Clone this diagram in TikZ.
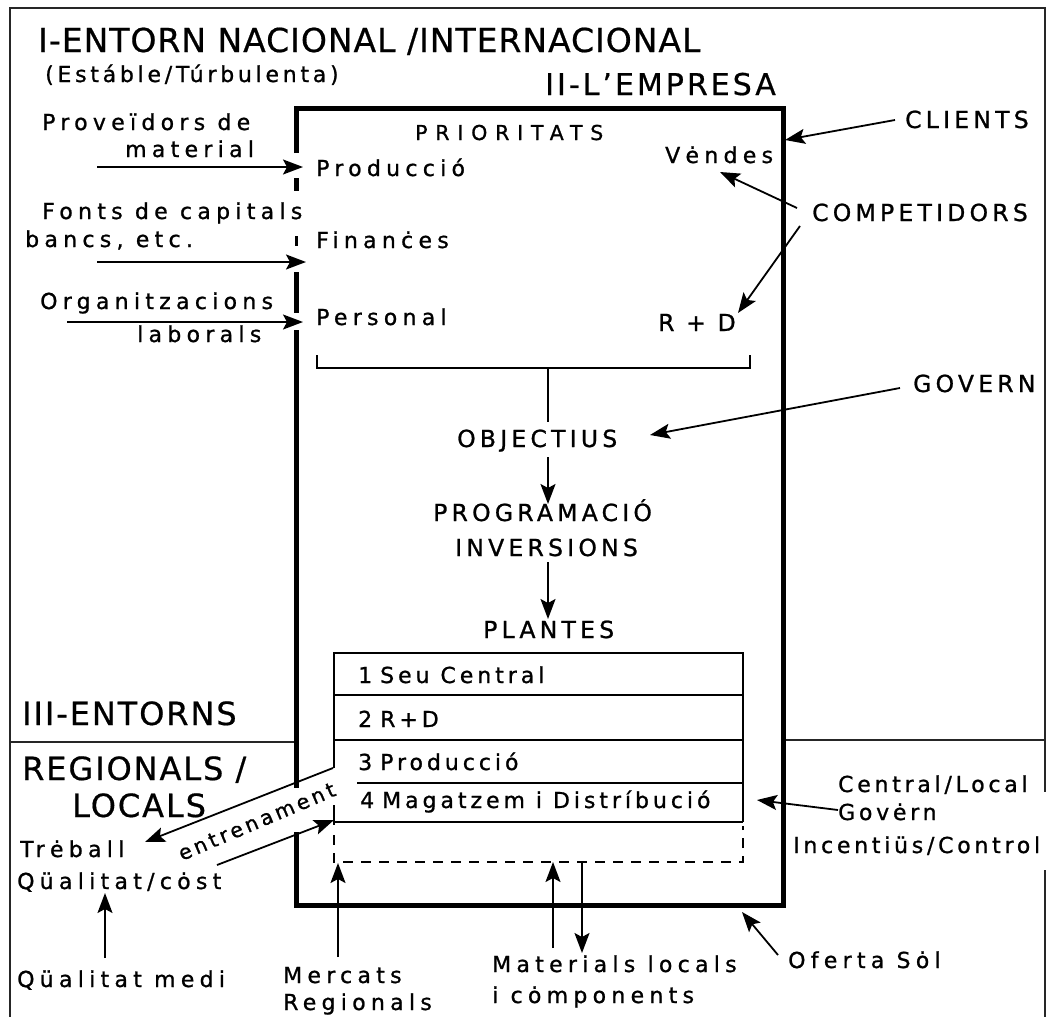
\documentclass[tikz,border=0pt]{standalone}
\usepackage{fontspec}
\setmainfont{DejaVu Sans}
\newfontfamily\ftitle[LetterSpace=3,FakeBold=0.6]{DejaVu Sans}
\newfontfamily\fbig[LetterSpace=6,FakeBold=0.6]{DejaVu Sans}
\newfontfamily\femp[LetterSpace=10,FakeBold=0.6]{DejaVu Sans}
\newfontfamily\fcap[LetterSpace=18,FakeBold=1]{DejaVu Sans}
\newfontfamily\fprio[LetterSpace=38,FakeBold=1]{DejaVu Sans}
\newfontfamily\flow[LetterSpace=24,FakeBold=1]{DejaVu Sans}
\newfontfamily\frow[LetterSpace=18,FakeBold=1]{DejaVu Sans}
\newfontfamily\flowt[LetterSpace=17,FakeBold=1]{DejaVu Sans}
\usetikzlibrary{arrows.meta}
\tikzset{
  lbl/.style={anchor=base west, inner sep=0pt, text=black},
  ttitle/.style={lbl, font=\ftitle\fontsize{33}{36}\selectfont},
  tbig/.style={lbl, font=\fbig\fontsize{32}{36}\selectfont},
  temp/.style={lbl, font=\femp\fontsize{30}{34}\selectfont},
  tcap/.style={lbl, font=\fcap\fontsize{23.5}{27}\selectfont},
  tprio/.style={lbl, font=\fprio\fontsize{20.5}{24}\selectfont},
  tlow/.style={lbl, font=\flow\fontsize{22}{26}\selectfont},
  trow/.style={lbl, font=\frow\fontsize{22}{26}\selectfont},
  tlowt/.style={lbl, font=\flowt\fontsize{22}{26}\selectfont},
  tent/.style={lbl, font=\flowt\fontsize{20.5}{24}\selectfont},
  ln/.style={line width=1.8pt, black},
  arr/.style={ln, -{Stealth[length=20pt,width=15pt,inset=4pt]}},
  bx/.style={line width=5pt, black},
  fr/.style={line width=1.6pt, black!85},
  tb/.style={line width=1.5pt, black},
  dsh/.style={tb, dash pattern=on 10pt off 8pt}
}
\begin{document}
\begin{tikzpicture}[x=1pt,y=-1pt]
\fill[white] (0,0) rectangle (1053,1017);
\useasboundingbox (0,0) rectangle (1053,1017);

% outer frame and divider
\draw[fr] (10,1017) -- (10,8) -- (1045,8) -- (1045,792);
\draw[fr] (1045,870) -- (1045,1017);
\draw[fr] (10,742) -- (296,742);
\draw[fr] (783,740) -- (1045,740);

% the company box (thick, broken on the left)
\draw[bx] (296,153) -- (296,108) -- (783,108) -- (783,905) -- (296,905) -- (296,832);
\draw[bx] (296,178) -- (296,191);
\draw[line width=3pt] (296,236) -- (296,246);
\draw[bx] (296,272) -- (296,313);
\draw[bx] (296,330) -- (296,788);

% texts
\node[ttitle] (t1) at (38,52) {I-ENTORN NACIONAL /INTERNACIONAL};
\node[tlowt] (t2) at (45,82) {(Estáble/Túrbulenta)};
\node[temp] (t3) at (545,95) {II-L’EMPRESA};
\node[tprio] (prio) at (415,140) {PRIORITATS};
\node[tlow] (prov1) at (42,130) {Proveïdors de};
\node[tlow] (prov2) at (125,157) {material};
\node[tlow] (prod) at (316,176) {Producció};
\node[tlow] (fonts1) at (42,219) {Fonts de capitals};
\node[tlow] (fonts2) at (25,247) {bancs, etc.};
\node[tlow] (fin) at (316,248) {Finanċes};
\node[tlow] (org1) at (40,309) {Organitzacions};
\node[tlow] (org2) at (137,342) {laborals};
\node[tlow] (pers) at (316,325) {Personal};
\node[tlow] (vend) at (665,163) {Vėndes};
\node[tcap] (cli) at (905,128) {CLIENTS};
\node[tcap] (comp) at (812,221) {COMPETIDORS};
\node[tcap] (rd) at (658,331) {R + D};
\node[tcap] (gov) at (913,392) {GOVERN};
\node[tcap] (obj) at (457,447) {OBJECTIUS};
\node[tcap] (prog) at (433,521) {PROGRAMACIÓ};
\node[tcap] (inv) at (455,556) {INVERSIONS};
\node[tcap] (plan) at (483,638) {PLANTES};

\node[trow] (r1) at (358,683) {1\hspace{8pt}Seu Central};
\node[trow] (r2) at (358,727) {2\hspace{8pt}R+D};
\node[trow] (r3) at (358,770) {3\hspace{8pt}Producció};
\node[trow] (r4) at (360,808) {4\hspace{8pt}Magatzem i Distríbució};

\node[tbig] (e3) at (22,725) {III-ENTORNS};
\node[tbig] (reg1) at (22,780) {REGIONALS /};
\node[tbig] (reg2) at (72,817) {LOCALS};
\node[tlow] (treb) at (20,857) {Trėball};
\node[tlow] (qual) at (17,889) {Qüalitat/cȯst};
\node[tlow] (qmedi) at (17,987) {Qüalitat medi};
\node[tlow] (merc1) at (283,983) {Mercats};
\node[tlow] (merc2) at (283,1010) {Regionals};
\node[tlow] (mat1) at (492,972) {Materials locals};
\node[tlow] (mat2) at (492,1003) {i cȯmponents};
\node[tlow] (ofer) at (788,968) {Oferta Sȯl};
\node[tlowt] (cl1) at (838,792) {Central/Local};
\node[tlowt] (cl2) at (838,820) {Govėrn};
\node[tlowt] (cl3) at (793,853) {Incentiüs/Control};
\node[tent, rotate=23] (entr) at (182,861) {entrenament};

% plants table
\draw[tb] (334,768) -- (334,653) -- (743,653) -- (743,822);
\draw[tb] (334,695) -- (743,695);
\draw[tb] (334,740) -- (743,740);
\draw[tb] (357,783) -- (743,783);
\draw[tb] (334,822) -- (743,822);
\draw[tb] (334,805) -- (334,825);
\draw[dsh] (334,835) -- (334,862) -- (743,862) -- (743,826);

% bracket under priorities
\coordinate (brl) at (317,368);
\coordinate (brr) at (750,368);
\coordinate (brm) at (548,368);
\coordinate (brb) at (548,422);
\draw[ln] (317,355) -- (brl) -- (brr) -- (750,355);
\draw[ln] (brm) -- (brb);

% arrow end points
\coordinate (a1s) at (97,167);   \coordinate (a1e) at (303,167);
\coordinate (a2s) at (97,262);   \coordinate (a2e) at (306,262);
\coordinate (a3s) at (67,322);   \coordinate (a3e) at (303,322);
\coordinate (a4s) at (895,120);  \coordinate (a4e) at (785,140);
\coordinate (a5s) at (797,208);  \coordinate (a5e) at (720,172);
\coordinate (a6s) at (800,226);  \coordinate (a6e) at (738,313);
\coordinate (a7s) at (900,388);  \coordinate (a7e) at (650,435);
\coordinate (a8s) at (548,457);  \coordinate (a8e) at (548,504);
\coordinate (a9s) at (548,562);  \coordinate (a9e) at (548,619);
\coordinate (a10s) at (333,768); \coordinate (a10e) at (145,842);
\coordinate (a11s) at (217,865); \coordinate (a11e) at (334,820);
\coordinate (a12s) at (105,958); \coordinate (a12e) at (105,893);
\coordinate (a13s) at (338,957); \coordinate (a13e) at (338,863);
\coordinate (a14s) at (553,948); \coordinate (a14e) at (553,862);
\coordinate (a15s) at (582,862); \coordinate (a15e) at (582,953);
\coordinate (a16s) at (838,810); \coordinate (a16e) at (757,800);
\coordinate (a17s) at (778,955); \coordinate (a17e) at (742,912);

\draw[arr] (a1s) -- (a1e);
\draw[arr] (a2s) -- (a2e);
\draw[arr] (a3s) -- (a3e);
\draw[arr] (a4s) -- (a4e);
\draw[arr] (a5s) -- (a5e);
\draw[arr] (a6s) -- (a6e);
\draw[arr] (a7s) -- (a7e);
\draw[arr] (a8s) -- (a8e);
\draw[arr] (a9s) -- (a9e);
\draw[arr] (a10s) -- (a10e);
\draw[arr] (a11s) -- (a11e);
\draw[arr] (a12s) -- (a12e);
\draw[arr] (a13s) -- (a13e);
\draw[arr] (a14s) -- (a14e);
\draw[arr] (a15s) -- (a15e);
\draw[arr] (a16s) -- (a16e);
\draw[arr] (a17s) -- (a17e);
\end{tikzpicture}
\end{document}
